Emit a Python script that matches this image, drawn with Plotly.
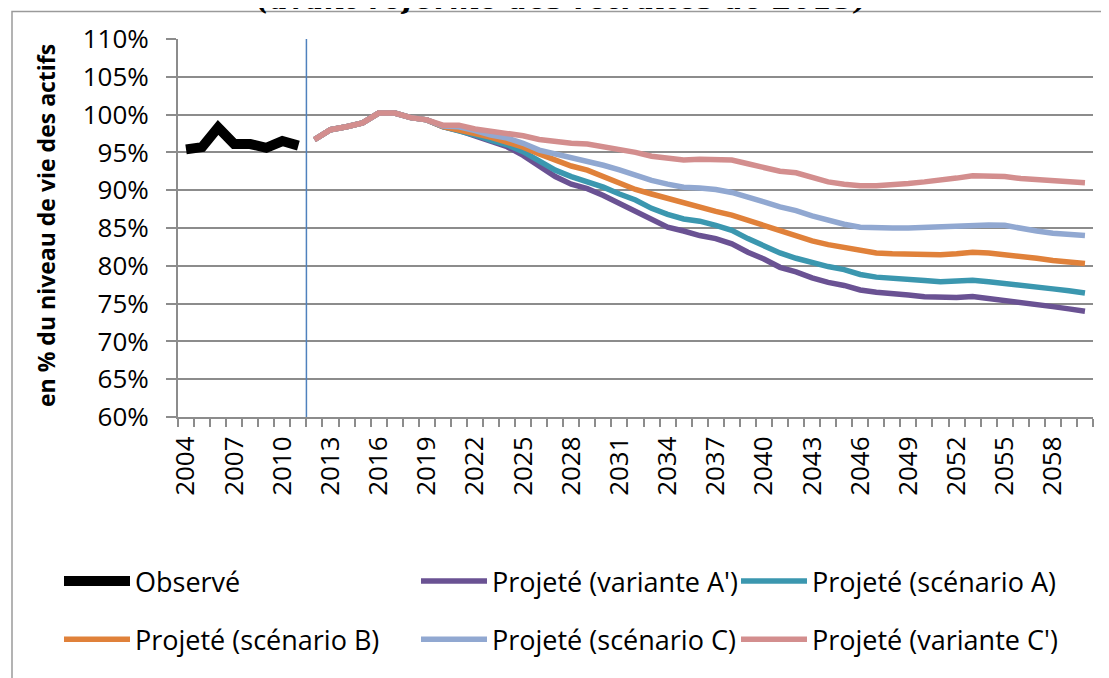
import plotly.graph_objects as go

years_obs = list(range(2004, 2012))
years_proj = list(range(2012, 2061))

observe = [95.4, 95.7, 98.3, 96.1, 96.1, 95.6, 96.5, 95.9]

# common part of all projections (2012-2019)
proj_common = [96.7, 98.0, 98.4, 98.9, 100.2, 100.2, 99.6, 99.3]

variante_Ap = proj_common + [98.4, 97.9, 97.2, 96.4, 95.75, 94.6, 93.1, 91.8, 90.8, 90.2,
                             89.3, 88.2, 87.1, 86.0, 85.1, 84.6, 84.0, 83.6, 82.9, 81.8,
                             80.9, 79.8, 79.2, 78.4, 77.8, 77.4, 76.8, 76.5, 76.4, 76.15,
                             75.9, 75.8, 75.8, 75.95, 75.7, 75.5, 75.2, 75.0, 74.6, 74.3, 74.0]
scenario_A = proj_common + [98.4, 97.9, 97.3, 96.6, 96.0, 95.1, 93.8, 92.65, 91.8, 91.1,
                            90.4, 89.5, 88.7, 87.6, 86.8, 86.2, 85.9, 85.35, 84.7, 83.6,
                            82.7, 81.7, 81.0, 80.4, 79.9, 79.5, 78.85, 78.5, 78.4, 78.3,
                            78.05, 77.9, 77.95, 78.1, 77.9, 77.7, 77.4, 77.2, 76.95, 76.7, 76.4]
scenario_B = proj_common + [98.4, 98.0, 97.5, 97.0, 96.4, 95.7, 94.8, 94.0, 93.2, 92.65,
                            91.8, 91.0, 90.1, 89.5, 88.9, 88.3, 87.8, 87.2, 86.7, 86.0,
                            85.4, 84.6, 83.9, 83.3, 82.8, 82.4, 82.0, 81.7, 81.6, 81.5,
                            81.45, 81.45, 81.6, 81.8, 81.7, 81.5, 81.15, 81.0, 80.7, 80.5, 80.3]
scenario_C = proj_common + [98.5, 98.4, 97.9, 97.3, 96.9, 96.2, 95.3, 94.8, 94.3, 93.9,
                            93.3, 92.7, 92.0, 91.3, 90.8, 90.4, 90.3, 90.1, 89.7, 89.0,
                            88.45, 87.8, 87.3, 86.6, 86.0, 85.5, 85.1, 85.0, 85.0, 85.0,
                            85.1, 85.2, 85.35, 85.4, 85.4, 85.35, 84.9, 84.6, 84.3, 84.15, 84.0]
variante_Cp = proj_common + [98.6, 98.6, 98.1, 97.8, 97.5, 97.2, 96.7, 96.4, 96.2, 96.1,
                             95.75, 95.4, 95.0, 94.5, 94.2, 94.0, 94.1, 94.1, 94.0, 93.5,
                             93.0, 92.5, 92.3, 91.7, 91.1, 90.8, 90.6, 90.6, 90.7, 90.9,
                             91.1, 91.3, 91.6, 91.9, 91.9, 91.8, 91.55, 91.4, 91.2, 91.1, 91.0]

tick_years = list(range(2004, 2061, 3))
y_ticks = list(range(60, 111, 5))

FONT = "Open Sans"
GRID = "#8c8c8c"

fig = go.Figure()

series = [
    ("Observé", years_obs, observe, "#000000", 10, "legend", "g1"),
    ("Projeté (variante A')", years_proj, variante_Ap, "#6a5293", 5.5, "legend2", "g2"),
    ("Projeté (scénario A)", years_proj, scenario_A, "#3b97af", 5.5, "legend3", "g3"),
    ("Projeté (scénario B)", years_proj, scenario_B, "#e0813a", 5.5, "legend", "g4"),
    ("Projeté (scénario C)", years_proj, scenario_C, "#91a8d1", 5.5, "legend2", "g5"),
    ("Projeté (variante C')", years_proj, variante_Cp, "#d38e8e", 5.5, "legend3", "g6"),
]
for name, xs, ys, col, w, lg, grp in series:
    fig.add_trace(go.Scatter(
        x=xs, y=ys, name=name, mode="lines",
        line=dict(color=col, width=w, shape="linear"),
        legend=lg, legendgroup=grp, hoverinfo="skip",
    ))

# separator between observed and projected
fig.add_shape(type="line", xref="x", yref="y", x0=2011.5, x1=2011.5, y0=60, y1=110,
              line=dict(color="#4f81bd", width=1.5), layer="above")

# outer frame
fig.add_shape(type="rect", xref="paper", yref="paper",
              x0=(12 - 178) / 915, x1=1.2, y0=-1.0, y1=(417 - 11.5) / 378,
              line=dict(color="#9a9a9a", width=1.5), layer="below")

fig.add_annotation(text="<b><i>(avant réforme des retraites de 2013)</i></b>",
                   xref="paper", yref="paper", x=(562 - 178) / 915, y=418 / 378,
                   xanchor="center", yanchor="middle", showarrow=False,
                   font=dict(family="DejaVu Serif", size=29, color="#000"))

fig.add_annotation(text="<b>en % du niveau de vie des actifs</b>",
                   xref="paper", yref="paper", x=(46 - 178) / 915, y=(417 - 226) / 378,
                   xanchor="center", yanchor="middle", textangle=-90, showarrow=False,
                   font=dict(family=FONT, size=23, color="#000"))

legend_common = dict(orientation="v", bgcolor="rgba(0,0,0,0)", borderwidth=0,
                     font=dict(family=FONT, size=27, color="#000"),
                     itemwidth=66, tracegroupgap=20, yanchor="top",
                     y=(417 - 557) / 378, xanchor="left", traceorder="grouped")

fig.update_layout(
    width=1101, height=670,
    margin=dict(l=170, r=16, t=31, b=261),
    paper_bgcolor="white", plot_bgcolor="white",
    showlegend=True,
    legend=dict(x=(59 - 178) / 915, **legend_common),
    legend2=dict(x=(416 - 178) / 915, **legend_common),
    legend3=dict(x=(736 - 178) / 915, **legend_common),
    xaxis=dict(
        range=[2003.5, 2060.5], tickmode="array", tickvals=tick_years,
        ticktext=[str(v) for v in tick_years], tickangle=-90,
        ticks="", showgrid=False, zeroline=False,
        showline=True, linecolor=GRID, linewidth=2,
        tickfont=dict(family=FONT, size=26, color="#000"),
        ticklabelstandoff=7,
        minor=dict(tick0=2003.5, dtick=1, ticks="outside", ticklen=8,
                   tickcolor=GRID, tickwidth=1.5, showgrid=False),
    ),
    yaxis=dict(
        range=[60, 110], tickmode="array", tickvals=y_ticks,
        ticktext=[f"{v}%" for v in y_ticks],
        ticks="outside", ticklen=10, tickcolor=GRID, tickwidth=1.5,
        showgrid=True, gridcolor=GRID, gridwidth=2, zeroline=False,
        showline=True, linecolor=GRID, linewidth=2,
        tickfont=dict(family=FONT, size=26, color="#000"),
        ticklabelstandoff=12,
    ),
)

fig.write_html("out.html")
